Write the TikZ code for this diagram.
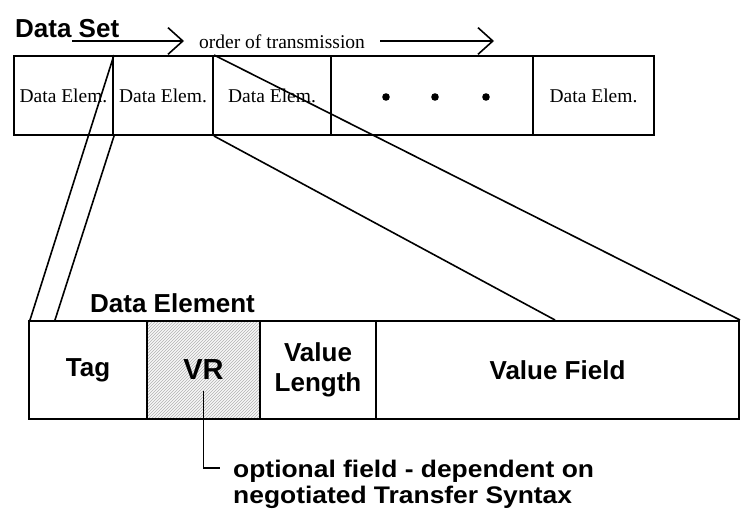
\documentclass[tikz,border=0pt]{standalone}
\usepackage{fontspec}
\setmainfont{Liberation Serif}
\newfontfamily\arialfont{Liberation Sans}
\newfontfamily\arialwide[FakeStretch=1.1]{Liberation Sans}
\usetikzlibrary{calc,patterns,arrows.meta}

\tikzset{
	elem/.style={draw, line width=2pt, inner sep=0, anchor=north west, minimum height=79pt, font=\fontsize{19.5}{22}\selectfont},
	field/.style={draw, line width=2pt, inner sep=0, anchor=north west, minimum height=98pt, align=center, font=\arialfont\bfseries\fontsize{26}{30}\selectfont},
	heading/.style={anchor=base west, inner sep=0, font=\arialfont\bfseries\fontsize{26}{30}\selectfont},
	link/.style={line width=1.6pt},
	order/.style={line width=1.6pt, -{Straight Barb[angle=84:20pt, line width=1.6pt]}}
}

\begin{document}
\begin{tikzpicture}[x=1pt, y=-1pt]
			%%%%% START %%%%%
			\useasboundingbox (0, 0) rectangle (749, 525);
			
			\node[heading] (dataset) at (15, 37) {Data Set};
			
			\coordinate (ordA) at (72, 41);
			\coordinate (ordB) at (184, 41);
			\coordinate (ordC) at (380, 41);
			\coordinate (ordD) at (494, 41);
			\node[anchor=base west, inner sep=0, font=\fontsize{19.5}{22}\selectfont] (ordertxt) at (199, 48) {order of transmission};
			\draw[order] (ordA) -- (ordB);
			\draw[order] (ordC) -- (ordD);
			
			% data set row
			\node[elem, minimum width=99pt] (de1) at (13, 55) {Data Elem.};
			\node[elem, minimum width=100pt] (de2) at (112, 55) {Data Elem.};
			\node[elem, minimum width=118pt] (de3) at (212, 55) {Data Elem.};
			\node[elem, minimum width=202pt] (dots) at (330, 55) {};
			\node[elem, minimum width=121pt] (de5) at (532, 55) {Data Elem.};
			
			\fill (386, 97) circle[radius=3.8pt];
			\fill (435, 97) circle[radius=3.8pt];
			\fill (486, 97) circle[radius=3.8pt];
			
			% data element row
			\node[heading] (dataelem) at (90, 312) {Data Element};
			
			\node[field, minimum width=118pt] (tag) at (28, 320) {Tag};
			\node[field, minimum width=113pt, preaction={fill=gray!6}, pattern=north east lines, pattern color=gray!60, font=\arialfont\bfseries\fontsize{29}{30}\selectfont] (vr) at (146, 320) {VR};
			\node[field, minimum width=116pt] (vlen) at (259, 320) {Value\\Length};
			\node[field, minimum width=363pt] (vfield) at (375, 320) {Value Field};
			
			% expansion lines
			\draw[link] (de1.north east) -- ($(tag.north west)+(2, 0)$);
			\draw[link] (de1.south east) -- ($(tag.north west)+(27, 0)$);
			\draw[link] (de2.south east) -- ($(vfield.north west)+(180, 0)$);
			\draw[link] (de2.north east) -- (vfield.north east);
			
			% note on the VR field
			\coordinate (leadend) at (220, 468);
			\draw[link] ([yshift=-21pt]vr.center) |- (leadend);
			\node[anchor=north west, align=left, inner sep=0, font=\arialwide\bfseries\fontsize{24}{26}\selectfont] (note) at (233, 460) {optional field - dependent on\\negotiated Transfer Syntax};
			
			%%%%% END %%%%%
\end{tikzpicture}
\end{document}
